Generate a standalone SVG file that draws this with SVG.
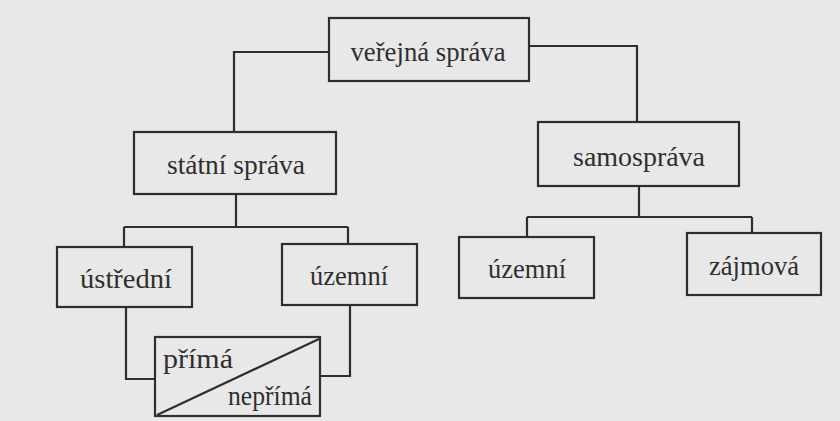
<svg xmlns="http://www.w3.org/2000/svg" width="840" height="421" viewBox="0 0 840 421">
<style>
.box{fill:none;stroke:#2e2e2e;stroke-width:2.2}
.ln{fill:none;stroke:#2e2e2e;stroke-width:2.2}
.t{font-size:28px;fill:#2f2f2f;text-anchor:middle}
</style>
<rect x="0" y="0" width="840" height="421" fill="#e8e8e9"/>
<g id="connectors">
<path class="ln" d="M329,52 H234 V132"/>
<path class="ln" d="M530,46 H637 V122"/>
<path class="ln" d="M236,194 V227 M124,227 H348 M124,227 V247 M348,227 V244"/>
<path class="ln" d="M639,186 V217 M527,217 H752 M527,217 V237 M752,217 V233"/>
<path class="ln" d="M126,307 V379 H155"/>
<path class="ln" d="M350,305 V376 H320"/>
</g>
<g font-family="Liberation Serif, Times New Roman, serif">
<g id="verejna"><rect class="box" x="329" y="18" width="200" height="63"/><text class="t" x="428" y="61" textLength="155" lengthAdjust="spacingAndGlyphs">veřejná správa</text></g>
<g id="statni"><rect class="box" x="134" y="132" width="202" height="62"/><text class="t" x="236" y="174" textLength="138" lengthAdjust="spacingAndGlyphs">státní správa</text></g>
<g id="samosprava"><rect class="box" x="538" y="122" width="201" height="64"/><text class="t" x="639" y="166" textLength="132" lengthAdjust="spacingAndGlyphs">samospráva</text></g>
<g id="ustredni"><rect class="box" x="57" y="247" width="135" height="60"/><text class="t" x="126" y="288" textLength="92" lengthAdjust="spacingAndGlyphs">ústřední</text></g>
<g id="uzemni1"><rect class="box" x="282" y="244" width="135" height="61"/><text class="t" x="349" y="285" textLength="78" lengthAdjust="spacingAndGlyphs">územní</text></g>
<g id="uzemni2"><rect class="box" x="459" y="237" width="135" height="61"/><text class="t" x="527" y="278" textLength="78" lengthAdjust="spacingAndGlyphs">územní</text></g>
<g id="zajmova"><rect class="box" x="687" y="233" width="134" height="62"/><text class="t" x="754" y="275" textLength="90" lengthAdjust="spacingAndGlyphs">zájmová</text></g>
<g id="prima"><rect class="box" x="155" y="337" width="165" height="79"/><line class="ln" x1="157" y1="415" x2="319" y2="339"/><text class="t" x="163" y="368" style="text-anchor:start" textLength="70" lengthAdjust="spacingAndGlyphs">přímá</text><text class="t" x="312" y="405" style="text-anchor:end" textLength="84" lengthAdjust="spacingAndGlyphs">nepřímá</text></g>
</g>
</svg>
